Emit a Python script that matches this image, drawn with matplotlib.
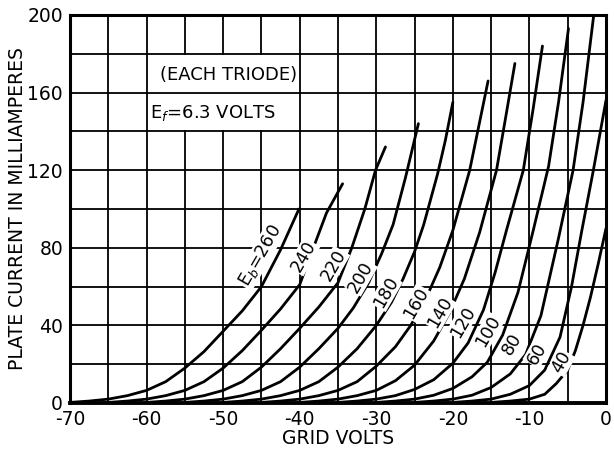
import matplotlib
matplotlib.use("Agg")
import matplotlib.pyplot as plt
from matplotlib.patches import Rectangle

# ---------------- data ----------------
plate_volts = [260, 240, 220, 200, 180, 160, 140, 120, 100, 80, 60, 40]

eg_260 = [-70, -67.5, -65, -62.5, -60, -57.5, -55, -52.5, -50, -47.5, -45, -42.5, -40.1]
ip_260 = [0.3, 1, 2, 3.8, 6.5, 11, 18, 26.5, 37, 47.5, 60, 79, 100]

eg_240 = [-65, -62.5, -60, -57.5, -55, -52.5, -50, -47.5, -45, -42.5, -40, -38.5, -36.5, -34.4]
ip_240 = [0.3, 1, 2, 3.8, 6.5, 11, 18, 27, 37.5, 48.5, 61, 77, 98, 113]

eg_220 = [-60, -57.5, -55, -52.5, -50, -47.5, -45, -42.5, -40, -37.5, -35, -33.2, -31.5, -30.1, -28.8]
ip_220 = [0.3, 1, 2, 3.8, 6.5, 11, 18.5, 28, 38.5, 49.5, 62, 80, 100, 120, 132]

eg_200 = [-55, -52.5, -50, -47.5, -45, -42.5, -40, -37.5, -35, -33, -31, -29.3, -27.8, -26.2, -24.5]
ip_200 = [0.3, 1, 2, 3.8, 6.5, 11, 18.5, 28, 38.5, 49, 62, 77, 92, 116, 144]

eg_180 = [-50, -47.5, -45, -42.5, -40, -37.5, -35, -32.5, -30, -28, -26.5, -25, -23.8, -22, -21, -20]
ip_180 = [0.3, 1, 2, 3.8, 6.5, 11, 18.5, 28, 40, 52, 64, 78, 92, 118, 135, 155]

eg_160 = [-45, -42.5, -40, -37.5, -35, -32.5, -30, -27.5, -25.5, -23.5, -21.7, -20, -17.8, -15.4]
ip_160 = [0.3, 1, 2, 3.8, 6.5, 11, 19, 29, 40, 54, 70, 89, 120, 166]

eg_140 = [-40, -37.5, -35, -32.5, -30, -27.5, -25, -22.5, -20.5, -18.5, -16.5, -14.3, -13.2, -11.9]
ip_140 = [0.3, 1, 2, 3.8, 6.5, 11.5, 19.5, 32, 46, 64, 88, 120, 145, 175]

eg_120 = [-35, -32.5, -30, -27.5, -25, -22.5, -20, -18, -16, -14.5, -13, -10.8, -9.5, -8.3]
ip_120 = [0.3, 1, 2, 3.8, 7, 12, 20.5, 31, 48, 67, 89, 120, 152, 184]

eg_100 = [-30, -27.5, -25, -22.5, -20, -17.5, -15.5, -13.5, -11.5, -9.5, -7.5, -6.2, -4.9]
ip_100 = [0.3, 1, 2, 4, 7.5, 13.5, 21, 35, 57, 89, 122, 155, 193]

eg_80 = [-25, -22.5, -20, -17.5, -15, -12.5, -10.5, -8.5, -6.2, -4.3, -3, -1.6]
ip_80 = [0.3, 1, 2, 4, 8, 15, 25, 45, 85, 120, 155, 200]

eg_60 = [-20, -17.5, -15, -12.5, -10, -8, -6, -4.5, -3.2, -1.65, 0]
ip_60 = [0.3, 1, 2, 4.5, 9, 17, 34, 60, 88, 120, 156]

eg_40 = [-15, -12.5, -10, -8, -6.5, -5, -4, -3, -2, -1, 0]
ip_40 = [0.3, 1, 2, 4.5, 10, 17, 27, 40, 55, 72, 90]

curves = [(eg_260, ip_260), (eg_240, ip_240), (eg_220, ip_220), (eg_200, ip_200),
          (eg_180, ip_180), (eg_160, ip_160), (eg_140, ip_140), (eg_120, ip_120),
          (eg_100, ip_100), (eg_80, ip_80), (eg_60, ip_60), (eg_40, ip_40)]

x_tick_values = [-70, -60, -50, -40, -30, -20, -10, 0]
x_tick_labels = ["-70", "-60", "-50", "-40", "-30", "-20", "-10", "0"]
y_tick_values = [0, 40, 80, 120, 160, 200]
y_tick_labels = ["0", "40", "80", "120", "160", "200"]

# label anchor positions (grid volts, mA) for the curve labels
label_pos = [(-45.2, 75.8), (-39.5, 75.4), (-35.6, 71), (-32.0, 65), (-28.75, 57),
             (-24.8, 51.5), (-21.7, 46.6), (-18.7, 41.9), (-15.4, 37.2),
             (-12.3, 30.4), (-9.05, 25.3), (-5.8, 20.9)]

# ---------------- drawing ----------------
plt.rcParams['font.family'] = ['DejaVu Sans']
fig = plt.figure(figsize=(6.14, 4.5), dpi=100)
ax = fig.add_axes([70 / 614, 1 - 403 / 450, 536 / 614, 388 / 450])
ax.set_xlim(-70, 0)
ax.set_ylim(0, 200)

ax.set_xticks(x_tick_values)
ax.set_xticklabels(x_tick_labels)
ax.set_xticks(range(-70, 1, 5), minor=True)
ax.set_yticks(y_tick_values)
ax.set_yticklabels(y_tick_labels)
ax.set_yticks(range(0, 201, 20), minor=True)
ax.tick_params(which='both', length=0)
ax.tick_params(axis='x', labelsize=13.5, pad=5)
ax.tick_params(axis='y', labelsize=13.5, pad=5)
ax.grid(which='both', color='black', linewidth=1.3)
ax.set_axisbelow(True)
for s in ax.spines.values():
    s.set_linewidth(2.2)
ax.spines['bottom'].set_linewidth(2.8)

# white panel behind the notes
ax.add_patch(Rectangle((-59.85, 140.6), 19.7, 38.8, facecolor='white', edgecolor='none', zorder=1.5))
ax.plot([-60, -40], [160, 160], color='black', lw=1.3, zorder=1.6)

for eg, ip in curves:
    ax.plot(eg, ip, color='black', lw=2.0, zorder=3, solid_capstyle='round',
            solid_joinstyle='round')

ax.text(-58.2, 169, "(EACH TRIODE)", fontsize=13, ha='left', va='center', zorder=4)
ax.text(-59.6, 149.5, r"E$_f$=6.3 VOLTS", fontsize=13, ha='left', va='center', zorder=4)

for i, (eb, (lx, ly)) in enumerate(zip(plate_volts, label_pos)):
    txt = r"E$_b$=" + str(eb) if i == 0 else str(eb)
    ax.text(lx, ly, txt, fontsize=12.5, rotation=60, ha='center', va='center',
            rotation_mode='anchor', zorder=4,
            bbox=dict(facecolor='white', edgecolor='none', pad=0.5))

ax.set_xlabel("GRID VOLTS", fontsize=13.5, labelpad=0)
ax.set_ylabel("PLATE CURRENT IN MILLIAMPERES", fontsize=13.5, labelpad=0)

fig.savefig("out.png", dpi=100)
